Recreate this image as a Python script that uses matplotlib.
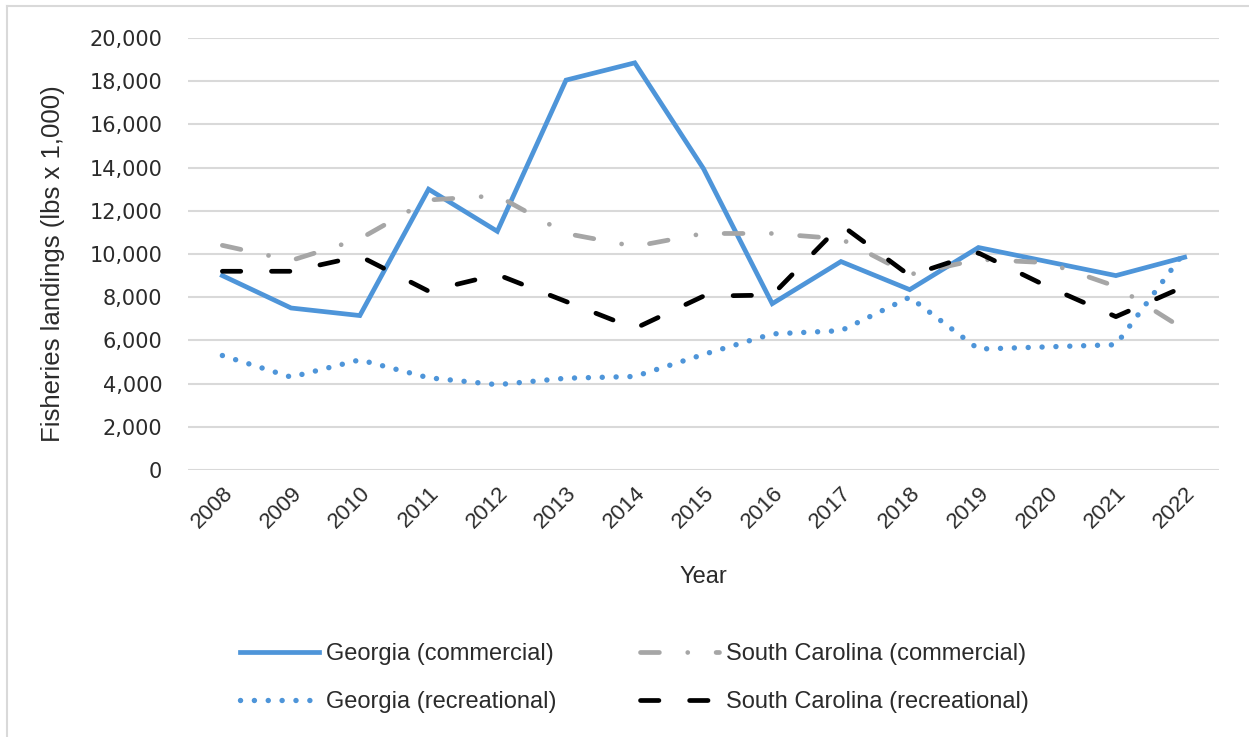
import matplotlib
matplotlib.use('Agg')
import matplotlib.pyplot as plt
from matplotlib.lines import Line2D
from matplotlib.ticker import FuncFormatter

years = [2008, 2009, 2010, 2011, 2012, 2013, 2014, 2015,
         2016, 2017, 2018, 2019, 2020, 2021, 2022]

ga_commercial = [9000, 7500, 7150, 13000, 11050, 18050, 18850, 13950,
                 7700, 9650, 8350, 10300, 9650, 9000, 9850]
sc_commercial = [10400, 9700, 10700, 12500, 12700, 10950, 10350, 10950,
                 10950, 10700, 9050, 9750, 9600, 8500, 6500]
ga_recreational = [5300, 4300, 5100, 4270, 3950, 4250, 4330, 5350,
                   6300, 6450, 8000, 5600, 5700, 5800, 10100]
sc_recreational = [9200, 9200, 9900, 8280, 9050, 7800, 6550, 8050,
                   8100, 11350, 9000, 10050, 8500, 7100, 8500]

blue = '#4E95D9'
gray = '#A6A6A6'
txt = '#2B2B2B'
lw = 3.4

fig = plt.figure(figsize=(12.49, 7.37), dpi=100)
ax = fig.add_axes([188 / 1249, 1 - 470 / 737, 1031 / 1249, 432 / 737])

x = list(range(len(years)))
ax.plot(x, ga_commercial, color=blue, lw=lw, solid_joinstyle='miter',
        label='Georgia (commercial)')
ax.plot(x, ga_recreational, color=blue, lw=3.9, dashes=(0.01, 2.55),
        dash_capstyle='round', label='Georgia (recreational)')
ax.plot(x, sc_commercial, color=gray, lw=lw, dashes=(4, 6, 0.01, 6),
        dash_capstyle='round', label='South Carolina (commercial)')
ax.plot(x, sc_recreational, color='black', lw=lw, dashes=(3.9, 6.5),
        dash_capstyle='round', label='South Carolina (recreational)')

ax.set_xlim(-0.5, len(years) - 0.5)
ax.set_ylim(0, 20000)
ax.set_yticks(range(0, 20001, 2000))
ax.yaxis.set_major_formatter(FuncFormatter(lambda v, p: f'{int(v):,}'))
ax.set_xticks(x)
ax.set_xticklabels([str(y) for y in years], rotation=45, ha='right',
                   rotation_mode='anchor', fontsize=16, family='Liberation Sans')
for lab in ax.get_yticklabels():
    lab.set_fontsize(15)
    lab.set_family('DejaVu Sans')
ax.tick_params(length=0, colors=txt)
ax.tick_params(axis='y', pad=18.5)
ax.tick_params(axis='x', pad=9)
ax.grid(axis='y', color='#D9D9D9', lw=1.5)
ax.set_axisbelow(True)
for s in ax.spines.values():
    s.set_visible(False)

ax.set_ylabel('Fisheries landings (lbs x 1,000)', fontsize=18.5,
              family='Liberation Sans', color=txt)
ax.yaxis.set_label_coords((65 - 188) / 1031, (470 - 264) / 432)
fig.text(703 / 1249, 1 - 577 / 737, 'Year', fontsize=17, ha='center',
         va='center', color=txt, family='Liberation Sans')

handles, labels = ax.get_legend_handles_labels()
fig.legend(handles, labels, ncol=2, loc='center',
           bbox_to_anchor=(634.5 / 1249, 1 - 678 / 737), frameon=False,
           prop={'family': 'Liberation Sans', 'size': 17},
           handlelength=3.35, handletextpad=0.3,
           columnspacing=3.5, labelspacing=1.1, labelcolor=txt)

# chart border (only top and left visible)
fig.add_artist(Line2D([7 / 1249, 7 / 1249], [0, 1 - 6 / 737],
                      transform=fig.transFigure, color='#D9D9D9', lw=1.5))
fig.add_artist(Line2D([7 / 1249, 1], [1 - 6 / 737, 1 - 6 / 737],
                      transform=fig.transFigure, color='#D9D9D9', lw=1.5))

fig.savefig('out.png', dpi=100)
